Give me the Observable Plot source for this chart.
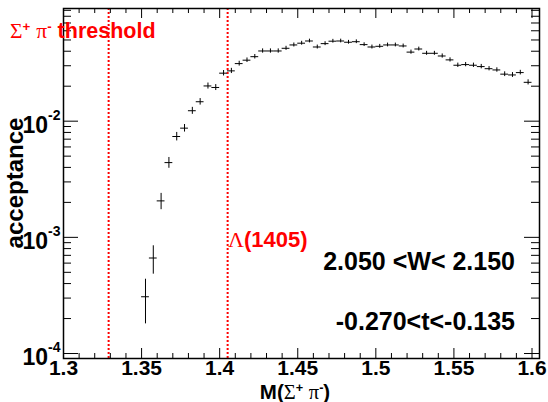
<!DOCTYPE html>
<html><head><meta charset="utf-8">
<script src="https://cdn.jsdelivr.net/npm/d3@7"></script>
<script src="https://cdn.jsdelivr.net/npm/@observablehq/plot@0.6"></script>
<style>
body{margin:0;background:#fff;}
#wrap{position:relative;width:548px;height:402px;font-family:"Liberation Sans",Arial,sans-serif;font-weight:bold;color:#000;}
#wrap svg{position:absolute;left:0;top:0;}
.ann{position:absolute;white-space:nowrap;line-height:1;}
.g{font-family:"Liberation Serif",serif;font-weight:normal;}
.sup{font-size:62%;position:relative;top:-0.55em;}
</style></head><body>
<div id="wrap"></div>
<script>
// ---- data ----
const massBins = [1.3525,1.3575,1.3625,1.3675,1.3725,1.3775,1.3825,1.3875,1.3925,1.3975,
  1.4025,1.4075,1.4125,1.4175,1.4225,1.4275,1.4325,1.4375,1.4425,1.4475,
  1.4525,1.4575,1.4625,1.4675,1.4725,1.4775,1.4825,1.4875,1.4925,1.4975,
  1.5025,1.5075,1.5125,1.5175,1.5225,1.5275,1.5325,1.5375,1.5425,1.5475,
  1.5525,1.5575,1.5625,1.5675,1.5725,1.5775,1.5825,1.5875,1.5925,1.5975];
const acceptance = [3.08e-4,6.64e-4,2.06e-3,4.40e-3,7.38e-3,8.71e-3,1.23e-2,1.47e-2,2.01e-2,1.95e-2,
  2.59e-2,2.71e-2,3.13e-2,3.35e-2,3.59e-2,4.02e-2,4.02e-2,4.02e-2,4.24e-2,4.53e-2,
  4.69e-2,4.90e-2,4.35e-2,4.65e-2,4.88e-2,4.90e-2,4.78e-2,4.83e-2,4.56e-2,4.35e-2,
  4.41e-2,4.53e-2,4.53e-2,4.44e-2,3.93e-2,4.18e-2,3.84e-2,3.84e-2,3.64e-2,3.37e-2,
  3.03e-2,3.07e-2,3.03e-2,2.95e-2,2.83e-2,2.76e-2,2.54e-2,2.50e-2,2.62e-2,2.16e-2];
const acceptanceErr = [1.28e-4,1.82e-4,3.3e-4,4.7e-4,6.2e-4,6.5e-4,8.5e-4,9.5e-4,1.2e-3,1.15e-3,
  1.4e-3,1.4e-3,1.5e-3,1.5e-3,1.6e-3,1.7e-3,1.7e-3,1.7e-3,1.7e-3,1.8e-3,
  1.8e-3,1.8e-3,1.7e-3,1.8e-3,1.8e-3,1.8e-3,1.8e-3,1.8e-3,1.7e-3,1.7e-3,
  1.7e-3,1.7e-3,1.7e-3,1.7e-3,1.6e-3,1.6e-3,1.5e-3,1.5e-3,1.5e-3,1.4e-3,
  1.3e-3,1.3e-3,1.3e-3,1.3e-3,1.2e-3,1.2e-3,1.2e-3,1.2e-3,1.2e-3,1.1e-3];
const binHalfWidth = 0.0025;
const markerLines = [1.3289, 1.4051];

const xDomain = [1.3, 1.6048];
const yDomain = [9.06e-5, 0.0933];
const xMajorTicks = [1.3,1.35,1.4,1.45,1.5,1.55,1.6];
const xTickLabels = ["1.3","1.35","1.4","1.45","1.5","1.55","1.6"];
const xMinorTicks = [1.31,1.32,1.33,1.34,1.36,1.37,1.38,1.39,1.41,1.42,1.43,1.44,
  1.46,1.47,1.48,1.49,1.51,1.52,1.53,1.54,1.56,1.57,1.58,1.59];
const yMajorTicks = [1e-4,1e-3,1e-2];
const yTickExponents = ["-4","-3","-2"];
const yMinorTicks = [2e-4,3e-4,4e-4,5e-4,6e-4,7e-4,8e-4,9e-4,
  2e-3,3e-3,4e-3,5e-3,6e-3,7e-3,8e-3,9e-3,
  2e-2,3e-2,4e-2,5e-2,6e-2,7e-2,8e-2,9e-2];

// ---- layout ----
const W = 548, H = 402, mL = 63, mR = 9, mT = 8, mB = 44;
const fw = W - mL - mR, fh = H - mT - mB;

const points = massBins.map((m, i) => ({m, v: acceptance[i], e: acceptanceErr[i]}));

const chart = Plot.plot({
  width: W, height: H,
  marginLeft: mL, marginRight: mR, marginTop: mT, marginBottom: mB,
  x: {domain: xDomain, axis: null},
  y: {type: "log", domain: yDomain, axis: null},
  style: {fontFamily: '"Liberation Sans", Arial, sans-serif', background: "white", overflow: "visible"},
  marks: [
    Plot.ruleX(markerLines, {x: d => d, stroke: "#ff0000", strokeWidth: 2, strokeDasharray: "2,2"}),
    Plot.ruleX(points, {x: "m", y1: d => d.v - d.e, y2: d => d.v + d.e, stroke: "black", strokeWidth: 1}),
    Plot.ruleY(points, {y: "v", x1: d => d.m - binHalfWidth, x2: d => d.m + binHalfWidth, stroke: "black", strokeWidth: 1}),
    Plot.ruleX(xMinorTicks, {x: d => d, insetTop: fh - 5, stroke: "black"}),
    Plot.ruleX(xMinorTicks, {x: d => d, insetBottom: fh - 5, stroke: "black"}),
    Plot.ruleX(xMajorTicks, {x: d => d, insetTop: fh - 10, stroke: "black"}),
    Plot.ruleX(xMajorTicks, {x: d => d, insetBottom: fh - 10, stroke: "black"}),
    Plot.ruleY(yMinorTicks, {y: d => d, insetRight: fw - 8, stroke: "black"}),
    Plot.ruleY(yMinorTicks, {y: d => d, insetLeft: fw - 8, stroke: "black"}),
    Plot.ruleY(yMajorTicks, {y: d => d, insetRight: fw - 15, stroke: "black"}),
    Plot.ruleY(yMajorTicks, {y: d => d, insetLeft: fw - 15, stroke: "black"}),
    Plot.text(xMajorTicks, {x: d => d, text: (d, i) => xTickLabels[i], frameAnchor: "bottom", lineAnchor: "top",
      dy: 2, fontSize: 21, fontWeight: "bold", fill: "black"}),
    Plot.text(yMajorTicks, {y: d => d, text: () => "10", frameAnchor: "left", textAnchor: "end",
      dx: -15.5, dy: 4, fontSize: 23, fontWeight: "bold", fill: "black"}),
    Plot.text(yMajorTicks, {y: d => d, text: (d, i) => yTickExponents[i], frameAnchor: "left", textAnchor: "start",
      dx: -15.5, dy: -6, fontSize: 14, fontWeight: "bold", fill: "black"}),
    Plot.frame({stroke: "black", strokeWidth: 1.5})
  ]
});

const wrap = document.getElementById("wrap");
wrap.appendChild(chart);

function ann(html, css) {
  const d = document.createElement("div");
  d.className = "ann";
  d.innerHTML = html;
  Object.assign(d.style, css);
  wrap.appendChild(d);
}
ann('<span class="g">Σ</span><span class="sup">+</span> <span class="g">π</span><span class="sup">-</span> threshold',
  {left: "10px", top: "21px", fontSize: "21.5px", color: "#ff0000"});
ann('<span class="g">Λ</span>(1405)', {left: "228px", top: "229px", fontSize: "22px", color: "#ff0000"});
ann('2.050 &lt;W&lt; 2.150', {right: "33px", top: "249px", fontSize: "25px"});
ann('-0.270&lt;t&lt;-0.135', {right: "33px", top: "309px", fontSize: "25px"});
ann('M(<span class="g">Σ</span><span class="sup">+</span> <span class="g">π</span><span class="sup">-</span>)',
  {left: "295px", top: "391.5px", fontSize: "20.5px", transform: "translate(-50%,-50%)"});
ann('acceptance', {left: "15px", top: "183px", fontSize: "24px", transform: "translate(-50%,-50%) rotate(-90deg)"});
</script>
</body></html>
